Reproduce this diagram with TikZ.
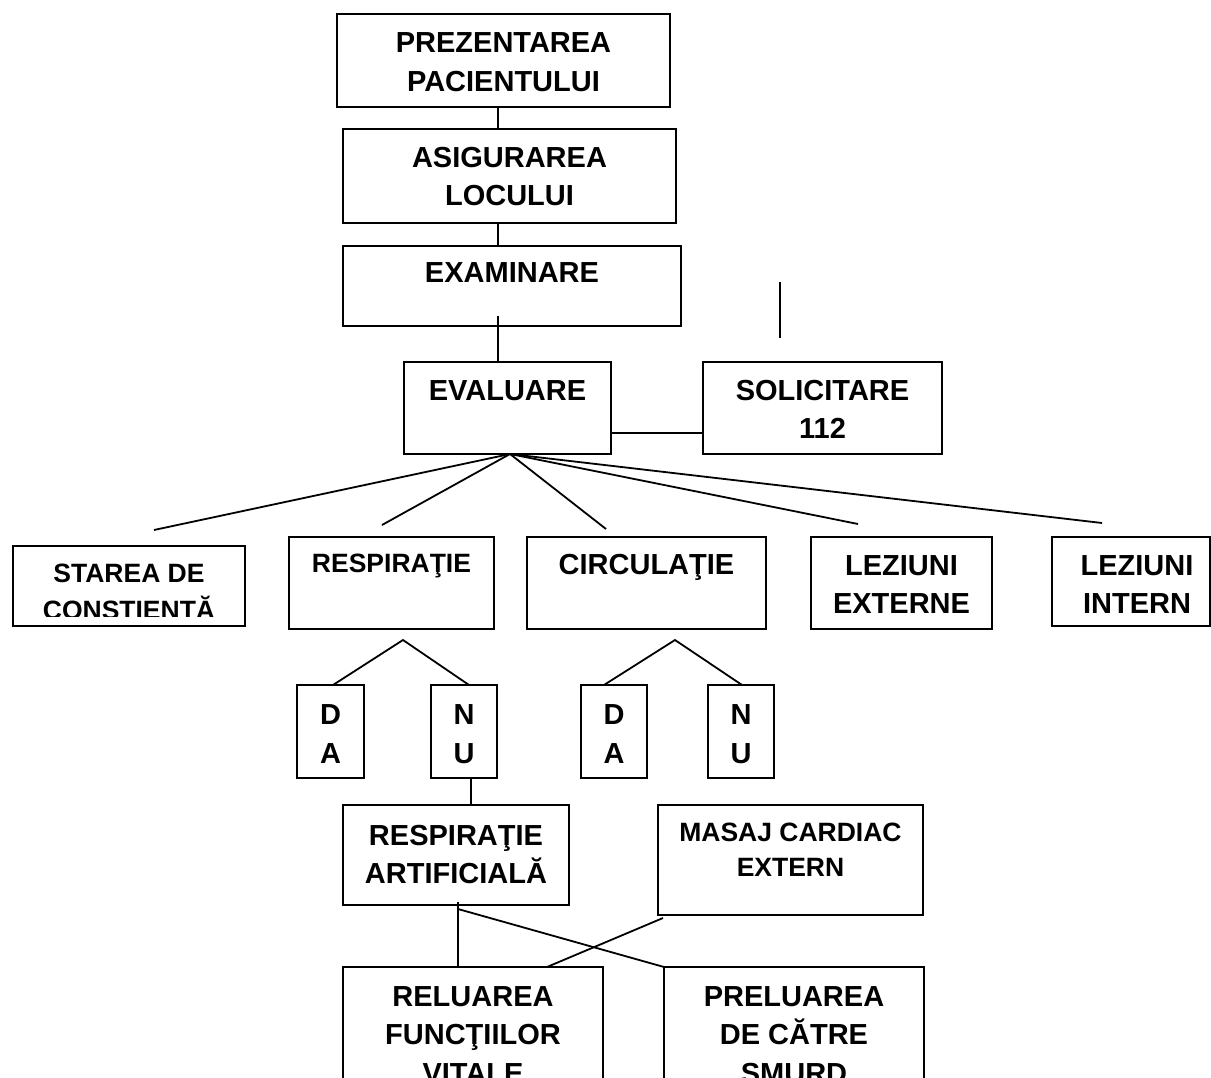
\documentclass[tikz,border=0pt]{standalone}
\usepackage{fontspec}
\setmainfont{Liberation Sans}
\begin{document}
\begin{tikzpicture}[x=1pt,y=-1pt,
  box/.style={draw, line width=2pt, rectangle, inner sep=0pt, outer sep=0pt, anchor=north west},
  big/.style={font=\fontsize{29}{33}\selectfont\bfseries, inner sep=0pt, anchor=base},
  small/.style={font=\fontsize{26.5}{30}\selectfont\bfseries, inner sep=0pt, anchor=base},
  conn/.style={line width=1.8pt}]
\clip (0,0) rectangle (1211,1078);
\fill[white] (0,0) rectangle (1211,1078);

% boxes
\node[box, minimum width=333pt, minimum height=93pt] (pres) at (337,14) {};
\node[box, minimum width=333pt, minimum height=94pt] (asig) at (343,129) {};
\node[box, minimum width=338pt, minimum height=80pt] (exam) at (343,246) {};
\node[box, minimum width=207pt, minimum height=92pt] (eval) at (404,362) {};
\node[box, minimum width=239pt, minimum height=92pt] (sol) at (703,362) {};
\node[box, minimum width=232pt, minimum height=80pt] (star) at (13,546) {};
\node[box, minimum width=205pt, minimum height=92pt] (resp) at (289,537) {};
\node[box, minimum width=239pt, minimum height=92pt] (circ) at (527,537) {};
\node[box, minimum width=181pt, minimum height=92pt] (lext) at (811,537) {};
\node[box, minimum width=158pt, minimum height=89pt] (lint) at (1052,537) {};
\node[box, minimum width=67pt, minimum height=93pt] (da1) at (297,685) {};
\node[box, minimum width=66pt, minimum height=93pt] (nu1) at (431,685) {};
\node[box, minimum width=66pt, minimum height=93pt] (da2) at (581,685) {};
\node[box, minimum width=66pt, minimum height=93pt] (nu2) at (708,685) {};
\node[box, minimum width=226pt, minimum height=100pt] (rart) at (343,805) {};
\node[box, minimum width=265pt, minimum height=110pt] (masaj) at (658,805) {};
\node[box, minimum width=260pt, minimum height=140pt] (rel) at (343,967) {};
\node[box, minimum width=260pt, minimum height=140pt] (prel) at (664,967) {};

% texts
\node[big] (t1a) at (503.5,53) {PREZENTAREA};
\node[big] (t1b) at (503.5,92) {PACIENTULUI};
\node[big] (t2a) at (509.5,168) {ASIGURAREA};
\node[big] (t2b) at (509.5,206) {LOCULUI};
\node[big] (t3) at (512,283) {EXAMINARE};
\node[big] (t4) at (507.5,400) {EVALUARE};
\node[big] (t5a) at (822.5,400) {SOLICITARE};
\node[big] (t5b) at (822.5,438) {112};
\begin{scope}
\clip (15,548) rectangle (243,616);
\node[small] (t6a) at (129,582) {STAREA DE};
\node[small] (t6b) at (129,619) {CONSTIENTĂ};
\end{scope}
\node[small] (t7) at (391.5,572) {RESPIRAŢIE};
\node[big] (t8) at (646.5,574) {CIRCULAŢIE};
\node[big] (t9a) at (901.5,575) {LEZIUNI};
\node[big] (t9b) at (901.5,613) {EXTERNE};
\node[big] (t10a) at (1137,575) {LEZIUNI};
\node[big] (t10b) at (1137,613) {INTERN};
\node[big] (d1a) at (330.5,724) {D};
\node[big] (d1b) at (330.5,763) {A};
\node[big] (n1a) at (464,724) {N};
\node[big] (n1b) at (464,763) {U};
\node[big] (d2a) at (614,724) {D};
\node[big] (d2b) at (614,763) {A};
\node[big] (n2a) at (741,724) {N};
\node[big] (n2b) at (741,763) {U};
\node[big] (t11a) at (456,845) {RESPIRAŢIE};
\node[big] (t11b) at (456,883) {ARTIFICIALĂ};
\node[small] (t12a) at (790.5,841) {MASAJ CARDIAC};
\node[small] (t12b) at (790.5,876) {EXTERN};
\node[big] (t13a) at (473,1006) {RELUAREA};
\node[big] (t13b) at (473,1044) {FUNCŢIILOR};
\node[big] (t13c) at (473,1083) {VITALE};
\node[big] (t14a) at (794,1006) {PRELUAREA};
\node[big] (t14b) at (794,1044) {DE CĂTRE};
\node[big] (t14c) at (794,1083) {SMURD};

% connectors
\draw[conn] (498,0 |- pres.south) -- (498,0 |- asig.north);
\draw[conn] (498,0 |- asig.south) -- (498,0 |- exam.north);
\coordinate (exin) at (498,316);
\draw[conn] (exin) -- (498,0 |- eval.north);
\coordinate (fa) at (780,282);
\coordinate (fb) at (780,338);
\draw[conn] (fa) -- (fb);
\draw[conn] (eval.east |- 0,433) -- (sol.west |- 0,433);
\coordinate (apex) at (510,454);
\coordinate (e1) at (154,530);
\coordinate (e2) at (382,525);
\coordinate (e3) at (606,529);
\coordinate (e4) at (858,524);
\coordinate (e5) at (1102,523);
\draw[conn] (apex) -- (e1);
\draw[conn] (apex) -- (e2);
\draw[conn] (apex) -- (e3);
\draw[conn] (apex) -- (e4);
\draw[conn] (apex) -- (e5);
\coordinate (ra) at (403,640);
\coordinate (ca) at (675,640);
\draw[conn] (333,0 |- da1.north) -- (ra) -- (469,0 |- nu1.north);
\draw[conn] (604,0 |- da2.north) -- (ca) -- (742,0 |- nu2.north);
\draw[conn] (471,0 |- nu1.south) -- (471,0 |- rart.north);
\coordinate (rin) at (458,902);
\coordinate (rd) at (458,909);
\draw[conn] (rin) -- (458,0 |- rel.north);
\draw[conn] (rd) -- (prel.north west);
\coordinate (mo) at (663,918);
\draw[conn] (mo) -- (547,0 |- rel.north);
\end{tikzpicture}
\end{document}
